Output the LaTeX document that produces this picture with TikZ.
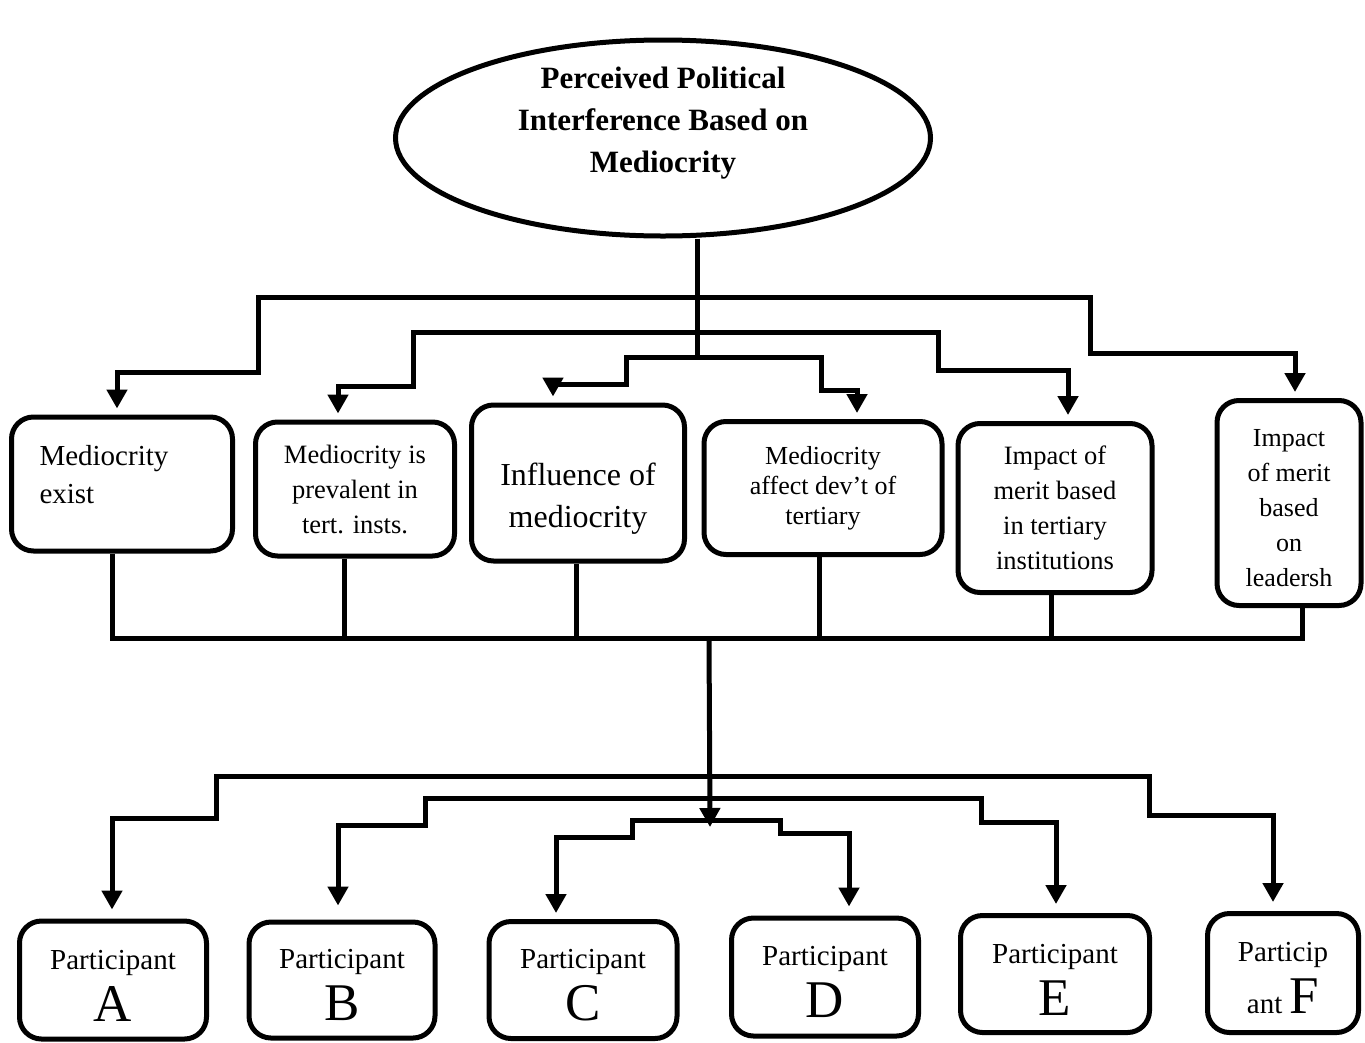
\documentclass[tikz,border=0pt]{standalone}
\usepackage{fontspec}
\setmainfont{Liberation Serif}
\usepackage{tikz}
\usetikzlibrary{shapes.geometric, arrows.meta, calc}
\tikzstyle{theme} = [ellipse, draw, line width=5pt, minimum width=535pt, minimum height=196pt, inner sep=0pt]
\tikzstyle{themetext} = [align=center, font=\fontsize{31}{42}\selectfont\bfseries]
\tikzstyle{codebox} = [rectangle, rounded corners=22pt, draw, line width=5pt, inner sep=0pt, align=center]
\tikzstyle{partbox} = [codebox, font=\fontsize{29}{52}\selectfont, text height=82pt]
\tikzstyle{link} = [line width=5pt]
\tikzstyle{arrow} = [link, -{Triangle[width=20pt,length=19pt]}, shorten >=6pt]
\newcommand{\bigletter}[1]{{\fontsize{53}{52}\selectfont #1}}

\begin{document}
\begin{tikzpicture}[x=1pt, y=-1pt]
\useasboundingbox (0,0) rectangle (1365,1042);

% Central theme
\node[theme] (root) at (663,138) {};
\node[themetext] (title) at (663,123) {Perceived Political\\Interference Based on\\Mediocrity};

% Sub-themes
\node[codebox, align=left, text width=165pt, text depth=58pt, minimum width=221pt, minimum height=134pt, font=\fontsize{29}{38}\selectfont] (exist) at (122,484) {Mediocrity\\exist};
\node[codebox, minimum width=199pt, minimum height=134pt, font=\fontsize{26.5}{35}\selectfont] (prevalent) at (355,489) {Mediocrity is\\prevalent in\\tert. insts.};
\node[codebox, minimum width=213pt, minimum height=156pt, text height=96pt, font=\fontsize{32}{42}\selectfont] (influence) at (578,483) {Influence of\\mediocrity};
\node[codebox, minimum width=238pt, minimum height=133pt, font=\fontsize{26}{30}\selectfont] (affect) at (823,488) {Mediocrity\\affect dev’t of\\tertiary};
\node[codebox, minimum width=194pt, minimum height=169pt, font=\fontsize{26.5}{35}\selectfont] (meritinst) at (1055,508) {Impact of\\merit based\\in tertiary\\institutions};
\node[codebox, minimum width=144pt, minimum height=205pt, text height=168pt, font=\fontsize{26}{35}\selectfont] (meritlead) at (1289,503) {Impact\\of merit\\based\\on\\leadersh};

% Participants
\node[partbox, minimum width=187pt, minimum height=118pt] (pA) at (113,980) {Participant\\\bigletter{A}};
\node[partbox, minimum width=186pt, minimum height=116pt] (pB) at (342,980) {Participant\\\bigletter{B}};
\node[partbox, minimum width=188pt, minimum height=117pt] (pC) at (583,980) {Participant\\\bigletter{C}};
\node[partbox, minimum width=187pt, minimum height=118pt] (pD) at (825,977) {Participant\\\bigletter{D}};
\node[partbox, minimum width=189pt, minimum height=117pt] (pE) at (1055,974) {Participant\\\bigletter{E}};
\node[partbox, minimum width=151pt, minimum height=119pt] (pF) at (1283,973) {Particip\\ant \bigletter{F}};

% Junctions
\coordinate (t1) at (697,297);
\coordinate (t2) at (697,332);
\coordinate (t3) at (697,357);
\coordinate (busL) at (112,638);
\coordinate (busR) at (1302,638);
\coordinate (busC) at (709,638);
\coordinate (hub) at (710,827);
\coordinate (u1) at (710,776);
\coordinate (u2) at (710,798);
\coordinate (u3) at (710,820);

% Theme to sub-themes
\draw[link] (root.south -| t1) -- (t3);
\draw[arrow] (t1) -| (258,372) -| (exist.north -| 117,0);
\draw[arrow] (t1) -| (1090,353) -| (meritlead.north -| 1295,0);
\draw[arrow] (t2) -| (413,386) -| (prevalent.north -| 338,0);
\draw[arrow] (t2) -| (938,370) -| (meritinst.north -| 1068,0);
\draw[arrow] (t3) -| (626,384) -| (influence.north -| 553,0);
\draw[arrow] (t3) -| (821,390) -| (affect.north -| 857,0);

% Sub-themes to bus
\draw[link] (exist.south -| busL) -- (busL) -- (busR) -- (meritlead.south -| busR);
\draw[link] (prevalent.south -| 344,0) -- (busL -| 344,0);
\draw[link] (influence.south -| 576,0) -- (busL -| 576,0);
\draw[link] (affect.south -| 819,0) -- (busL -| 819,0);
\draw[link] (meritinst.south -| 1051,0) -- (busL -| 1051,0);
\draw[arrow, shorten >=0pt] (busC) -- (hub);

% Bus to participants
\draw[arrow, shorten >=9pt] (u1) -| (216,818) -| (pA.north -| 112,0);
\draw[arrow, shorten >=9pt] (u1) -| (1149,815) -| (pF.north -| 1273,0);
\draw[arrow, shorten >=14pt] (u2) -| (425,825) -| (pB.north -| 338,0);
\draw[arrow, shorten >=9pt] (u2) -| (981,822) -| (pE.north -| 1056,0);
\draw[arrow, shorten >=6pt] (u3) -| (632,837) -| (pC.north -| 556,0);
\draw[arrow, shorten >=9pt] (u3) -| (780,833) -| (pD.north -| 849,0);
\end{tikzpicture}
\end{document}
